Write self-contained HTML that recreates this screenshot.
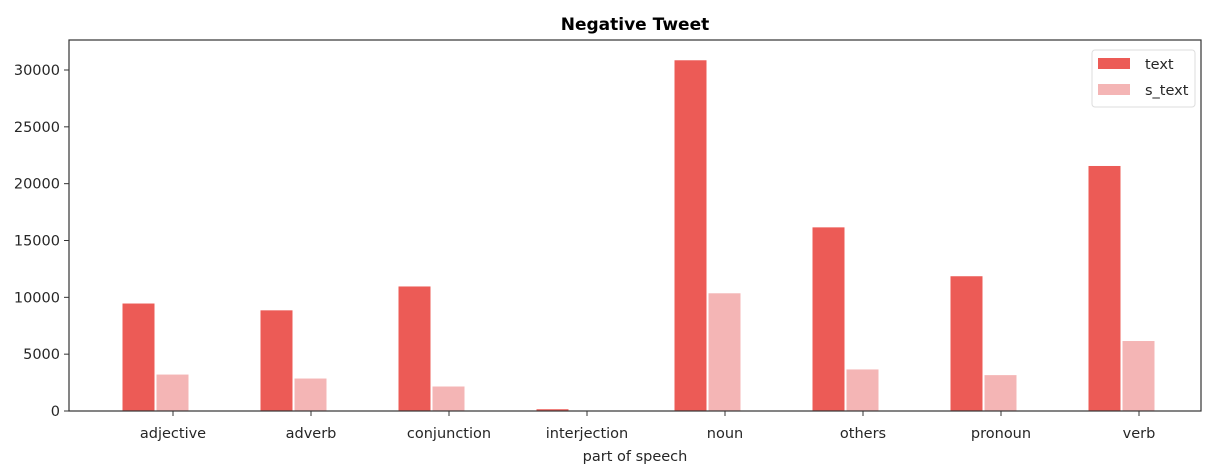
<!DOCTYPE html>
<html><head><meta charset="utf-8"><style>
body{margin:0;background:#fff;}
svg{font-family:"DejaVu Sans","Liberation Sans",sans-serif;}
</style></head><body>
<svg width="1224" height="470" xmlns="http://www.w3.org/2000/svg">
</svg>
<script>
const categories=["adjective","adverb","conjunction","interjection","noun","others","pronoun","verb"];
const textValues=[9500,8900,11000,200,30900,16200,11900,21600];
const sTextValues=[3250,2900,2200,0,10400,3700,3200,6200];
const yTicks=[0,5000,10000,15000,20000,25000,30000];
const L=69,R=1201,T=40,B=411;
const y=v=>B-v*(341/30000);
const x=i=>173+i*138;
const bw=33;
const NS="http://www.w3.org/2000/svg";
const svg=document.querySelector('svg');
function mk(t,a,txt){const e=document.createElementNS(NS,t);for(const k in a)e.setAttribute(k,a[k]);if(txt!==undefined)e.textContent=txt;svg.appendChild(e);return e;}
categories.forEach((c,i)=>{
 let r=mk('rect',{x:x(i)-51,y:y(textValues[i]),width:bw,height:B-y(textValues[i]),fill:'#ec5b56',stroke:'#fff','stroke-width':1});
 
 
 let p=mk('rect',{x:x(i)-17,y:y(sTextValues[i]),width:bw,height:B-y(sTextValues[i]),fill:'#f4b5b5',stroke:'#fff','stroke-width':1});
 
 
 let tk=mk('line',{x1:x(i),x2:x(i),y1:B,y2:B+5,stroke:'#333'});
 
 
 let lb=mk('text',{x:x(i),y:B+27,'text-anchor':'middle','font-size':14.5,fill:'#262626'},c);
 
 
});
yTicks.forEach(v=>{
 let tk=mk('line',{x1:L-5,x2:L,y1:y(v),y2:y(v),stroke:'#333'});
 
 
 let lb=mk('text',{x:L-9,y:y(v)+5,'text-anchor':'end','font-size':14.5,fill:'#262626'},v);
 
 
});
let ax=mk('rect',{x:L,y:T,width:R-L,height:B-T,fill:'none',stroke:'#333','stroke-width':1.2});

let t=mk('text',{x:(L+R)/2,y:30,'text-anchor':'middle','font-size':17,'font-weight':'bold',fill:'#000'},'Negative Tweet');

let xl=mk('text',{x:(L+R)/2,y:461,'text-anchor':'middle','font-size':14.5,fill:'#262626'},'part of speech');

let lg=mk('rect',{x:1092,y:50,width:103,height:57,rx:3,fill:'#fff',stroke:'#ddd'});

let s1=mk('rect',{x:1098,y:58,width:32,height:11,fill:'#ec5b56'});

let t1=mk('text',{x:1145,y:69,'font-size':14.5,fill:'#262626'},'text');

let s2=mk('rect',{x:1098,y:84,width:32,height:11,fill:'#f4b5b5'});

let t2=mk('text',{x:1145,y:95,'font-size':14.5,fill:'#262626'},'s_text');

</script>
</body></html>
